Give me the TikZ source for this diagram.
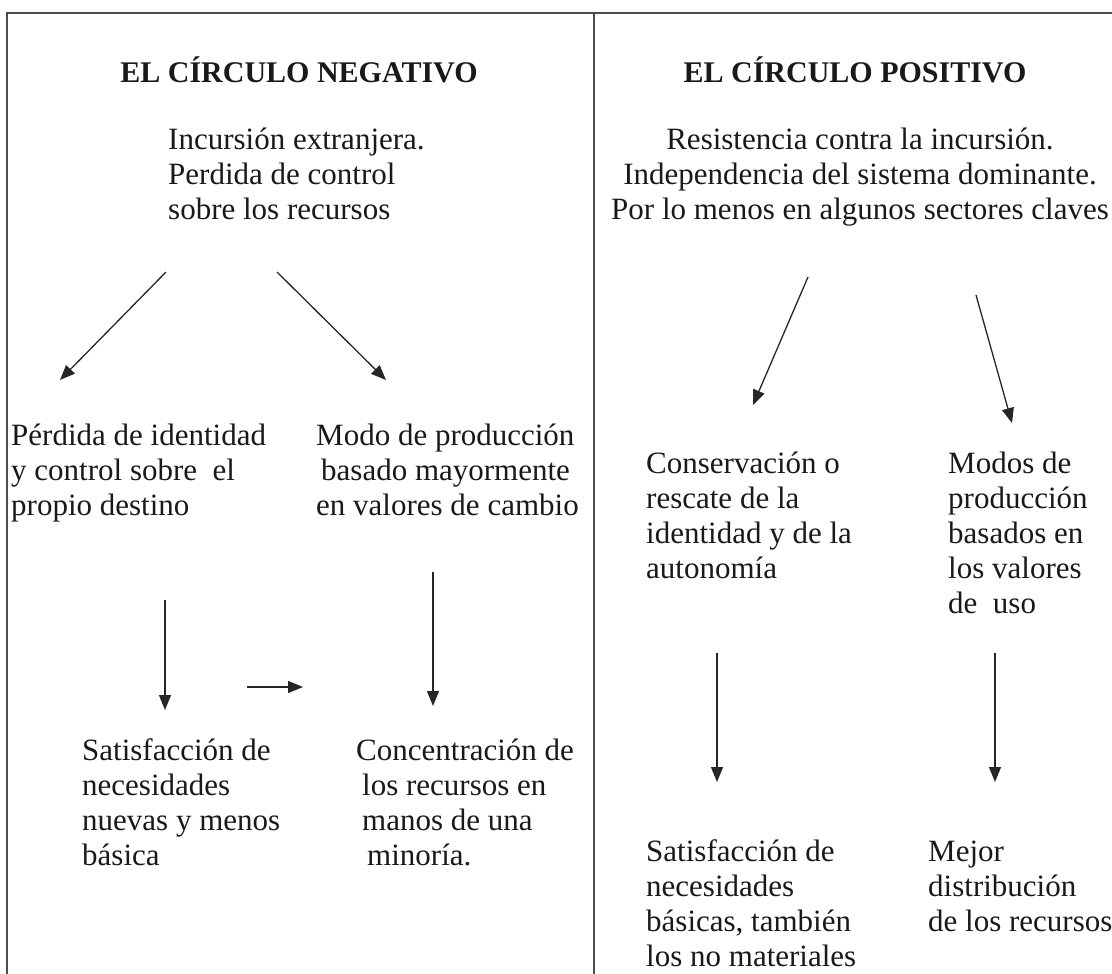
\documentclass[tikz,border=0pt]{standalone}
\usepackage{fontspec}
\setmainfont{Liberation Serif}
\usetikzlibrary{arrows.meta}
\tikzset{
  frame/.style={line width=1.3pt, draw=black!70},
  conn/.style={line width=1.3pt, draw=black!85, -{Triangle[length=15pt,width=12pt]}},
  body/.style={font=\fontsize{31}{35}\selectfont, inner sep=0pt, text=black!90},
  ttl/.style={font=\fontsize{30}{34}\selectfont\bfseries, inner sep=0pt, text=black!90},
}
\begin{document}
\begin{tikzpicture}[x=1pt,y=-1pt]
\useasboundingbox (0,0) rectangle (1112,974);
% frame
\coordinate (ftl) at (7,13);
\coordinate (ftr) at (1112,13);
\coordinate (fbl) at (7,974);
\coordinate (fmt) at (594,13);
\coordinate (fmb) at (594,974);
\draw[frame] (ftr) -- (ftl) -- (fbl);
\draw[frame] (fmt) -- (fmb);
% titles
\node[ttl, anchor=base] (tneg) at (299,82) {EL CÍRCULO NEGATIVO};
\node[ttl, anchor=base] (tpos) at (855,82) {EL CÍRCULO POSITIVO};
% left column (anchor = baseline of the last line)
\node[body, align=left, anchor=base west] (inc) at (168,219) {Incursión extranjera.\\Perdida de control\\sobre los recursos};
\node[body, align=left, anchor=base west] (perd) at (11,515) {Pérdida de identidad\\y control sobre\ \ el\\propio destino};
\node[body, align=left, anchor=base west] (modo) at (316,515) {Modo de producción\\\hspace*{5pt}basado mayormente\\en valores de cambio};
\node[body, align=left, anchor=base west] (satn) at (82,865) {Satisfacción de\\necesidades\\nuevas y menos\\básica};
\node[body, align=left, anchor=base west] (conc) at (356,865) {Concentración de\\\hspace*{6pt}los recursos en\\\hspace*{6pt}manos de una\\\hspace*{11pt}minoría.};
% right column
\node[body, align=center, anchor=base] (res) at (860,219) {Resistencia contra la incursión.\\Independencia del sistema dominante.\\Por lo menos en algunos sectores claves};
\node[body, align=left, anchor=base west] (cons) at (646,578) {Conservación o\\rescate de la\\identidad y de la\\autonomía};
\node[body, align=left, anchor=base west] (modos) at (948,613) {Modos de\\producción\\basados en\\los valores\\de\ \ uso};
\node[body, align=left, anchor=base west] (satp) at (646,966) {Satisfacción de\\necesidades\\básicas, también\\los no materiales};
\node[body, align=left, anchor=base west] (mej) at (928,931) {Mejor\\distribución\\de los recursos};
% arrow end points
\coordinate (a1s) at (166,272); \coordinate (a1e) at (60,380);
\coordinate (a2s) at (277,272); \coordinate (a2e) at (386,380);
\coordinate (a3s) at (165,600); \coordinate (a3e) at (165,710);
\coordinate (a4s) at (433,572); \coordinate (a4e) at (433,706);
\coordinate (a5s) at (247,687); \coordinate (a5e) at (303,687);
\coordinate (b1s) at (808,277); \coordinate (b1e) at (753,405);
\coordinate (b2s) at (976,295); \coordinate (b2e) at (1012,423);
\coordinate (b3s) at (717,653); \coordinate (b3e) at (717,782);
\coordinate (b4s) at (995,653); \coordinate (b4e) at (995,782);
\draw[conn] (a1s) -- (a1e);
\draw[conn] (a2s) -- (a2e);
\draw[conn] (a3s) -- (a3e);
\draw[conn] (a4s) -- (a4e);
\draw[conn] (a5s) -- (a5e);
\draw[conn] (b1s) -- (b1e);
\draw[conn] (b2s) -- (b2e);
\draw[conn] (b3s) -- (b3e);
\draw[conn] (b4s) -- (b4e);
\end{tikzpicture}
\end{document}
